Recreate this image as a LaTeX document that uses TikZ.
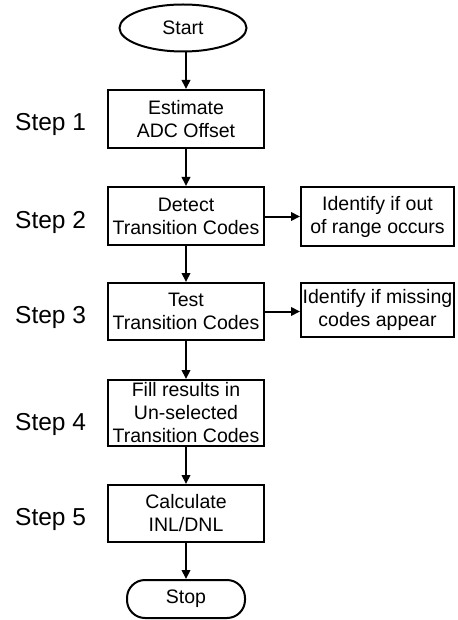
\documentclass[tikz,border=0pt]{standalone}
\usepackage{fontspec}
\setmainfont{Liberation Sans}
\usetikzlibrary{arrows.meta,shapes.geometric}
\begin{document}
\begin{tikzpicture}[x=1pt,y=-1pt,
  boxtext/.style={font=\fontsize{19.5}{23}\selectfont},
  stepbox/.style={draw,line width=2pt,minimum width=156pt,inner sep=0pt,align=center,boxtext},
  sidebox/.style={draw,line width=2pt,minimum width=153pt,inner sep=0pt,align=center,boxtext},
  steplabel/.style={anchor=base west,inner sep=0pt,font=\fontsize{24.5}{28}\selectfont},
  arr/.style={line width=2pt,-{Triangle[length=9pt,width=8.5pt]}}]
\useasboundingbox (0,0) rectangle (457,620);
\node[draw,ellipse,line width=2pt,minimum width=127pt,minimum height=47pt,inner sep=0pt,boxtext] (start) at (183,28) {Start};
\node[stepbox,minimum height=58pt] (b1) at (186,119) {Estimate\\ADC Offset};
\node[stepbox,minimum height=58pt] (b2) at (186,216) {Detect\\Transition Codes};
\node[stepbox,minimum height=57pt] (b3) at (186,311.5) {Test\\Transition Codes};
\node[stepbox,minimum height=66pt] (b4) at (186,413) {Fill results in\\Un-selected\\Transition Codes};
\node[stepbox,minimum height=57pt] (b5) at (186,513.5) {Calculate\\INL/DNL};
\node[draw,line width=2pt,rounded corners=18pt,minimum width=118pt,minimum height=38pt,inner sep=0pt,boxtext] (stop) at (186,599) {Stop};
\node[sidebox,minimum height=59pt] (r1) at (377.5,216.5) {Identify if out\\of range occurs};
\node[sidebox,minimum height=54pt] (r2) at (377.5,310) {Identify if missing\\codes appear};
\node[steplabel] (s1) at (15,130.5) {Step 1};
\node[steplabel] (s2) at (15,228.5) {Step 2};
\node[steplabel] (s3) at (15,323.5) {Step 3};
\node[steplabel] (s4) at (15,430.5) {Step 4};
\node[steplabel] (s5) at (15,525.5) {Step 5};
\draw[arr] (start.south -| b1.north) -- (b1.north);
\draw[arr] (b1) -- (b2);
\draw[arr] (b2) -- (b3);
\draw[arr] (b3) -- (b4);
\draw[arr] (b4) -- (b5);
\draw[arr] (b5) -- (stop);
\draw[arr] (b2.east |- r1.west) -- (r1.west);
\draw[arr] (b3.east) -- (b3.east -| r2.west);
\end{tikzpicture}
\end{document}
